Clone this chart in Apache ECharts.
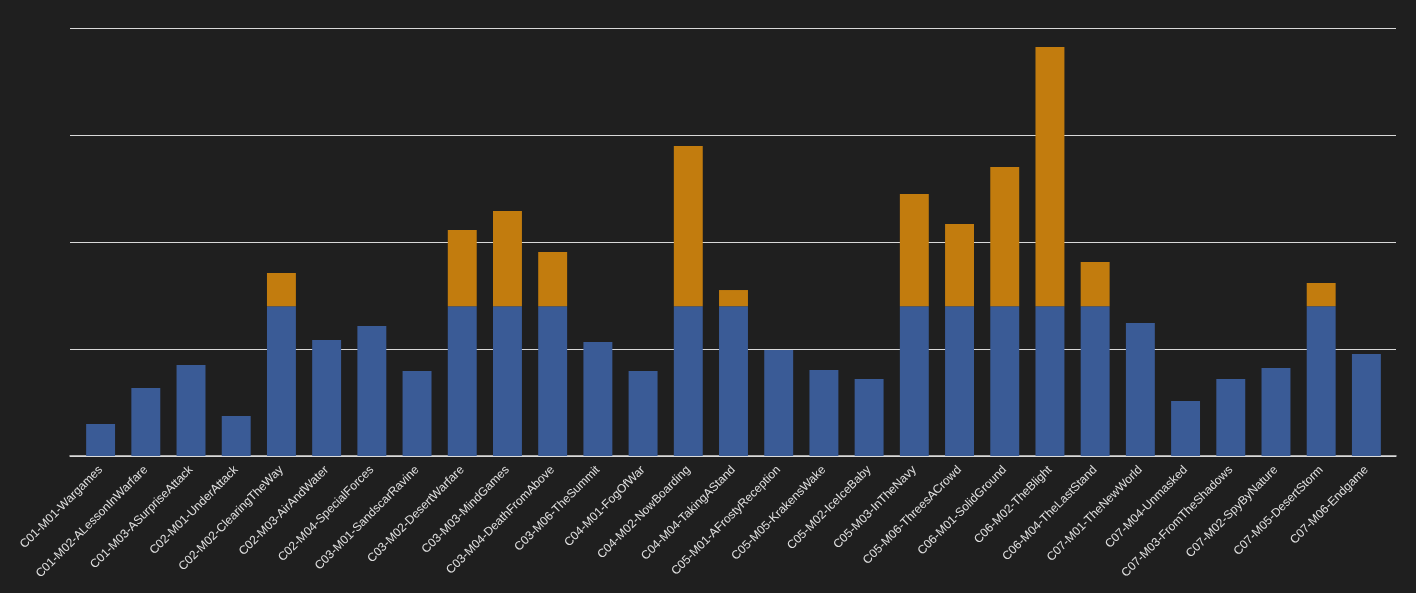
<!DOCTYPE html>
<html>
<head>
<meta charset="utf-8">
<script src="https://cdn.jsdelivr.net/npm/echarts@6/dist/echarts.min.js"></script>
<style>
    html, body { margin: 0; padding: 0; background: #1f1f1f; }
    #chart { width: 1416px; height: 593px; }
</style>
</head>
<body>
<div id="chart"></div>
<script>
    // missions
    var categories = [
        'C01-M01-Wargames', 'C01-M02-ALessonInWarfare', 'C01-M03-ASurpriseAttack', 'C02-M01-UnderAttack',
        'C02-M02-ClearingTheWay', 'C02-M03-AirAndWater', 'C02-M04-SpecialForces', 'C03-M01-SandscarRavine',
        'C03-M02-DesertWarfare', 'C03-M03-MindGames', 'C03-M04-DeathFromAbove', 'C03-M06-TheSummit',
        'C04-M01-FogOfWar', 'C04-M02-NowBoarding', 'C04-M04-TakingAStand', 'C05-M01-AFrostyReception',
        'C05-M05-KrakensWake', 'C05-M02-IceIceBaby', 'C05-M03-InTheNavy', 'C05-M06-ThreesACrowd',
        'C06-M01-SolidGround', 'C06-M02-TheBlight', 'C06-M04-TheLastStand', 'C07-M01-TheNewWorld',
        'C07-M04-Unmasked', 'C07-M03-FromTheShadows', 'C07-M02-SpyByNature', 'C07-M05-DesertStorm',
        'C07-M06-Endgame'
    ];
    // blue part (capped)
    var baseValues = [
        30, 63.5, 85, 37.4, 140, 108.4, 121.5, 79.4,
        140, 140, 140, 106.5, 79.4, 140, 140, 99,
        80.4, 72, 140, 140, 140, 140, 140, 124.3,
        51.4, 72, 82.2, 140, 95.3
    ];
    // orange part on top
    var extraValues = [
        0, 0, 0, 0, 31, 0, 0, 0,
        71.2, 89, 50.7, 0, 0, 149.7, 15.1, 0,
        0, 0, 104.9, 76.8, 130.1, 242.2, 41.3, 0,
        0, 0, 0, 21.7, 0
    ];

    var myChart = echarts.init(document.getElementById('chart'));
    var option = {
        backgroundColor: '#1f1f1f',
        animation: false,
        grid: [
            { left: 70, right: 20, top: 28, bottom: 137 },
            { left: 78, right: 27, top: 28, bottom: 137 }
        ],
        xAxis: [
            {
                gridIndex: 0, type: 'value', min: 0, max: 1,
                axisLine: { show: true, lineStyle: { color: '#dcdcdc', width: 1.5 } },
                axisTick: { show: false }, axisLabel: { show: false }, splitLine: { show: false }
            },
            {
                gridIndex: 1, type: 'category', data: categories,
                axisLine: { show: false }, axisTick: { show: false },
                axisLabel: {
                    interval: 0, rotate: 45, color: '#e0e0e0', fontSize: 12,
                    fontFamily: 'Liberation Sans, Arial, sans-serif', margin: 12
                }
            }
        ],
        yAxis: [
            {
                gridIndex: 0, type: 'value', min: 0, max: 400, interval: 100,
                axisLine: { show: false }, axisTick: { show: false }, axisLabel: { show: false },
                splitLine: { lineStyle: { color: '#d8d8d8', width: 1.2 } }
            },
            {
                gridIndex: 1, type: 'value', min: 0, max: 400, interval: 100,
                axisLine: { show: false }, axisTick: { show: false }, axisLabel: { show: false },
                splitLine: { show: false }
            }
        ],
        series: [
            {
                name: 'base', type: 'bar', stack: 'total', xAxisIndex: 1, yAxisIndex: 1,
                barWidth: '64%', data: baseValues,
                itemStyle: { color: '#3a5b96' }
            },
            {
                name: 'extra', type: 'bar', stack: 'total', xAxisIndex: 1, yAxisIndex: 1,
                barWidth: '64%', data: extraValues,
                itemStyle: { color: '#c27c0e' }
            }
        ]
    };
    myChart.setOption(option);
</script>
</body>
</html>
